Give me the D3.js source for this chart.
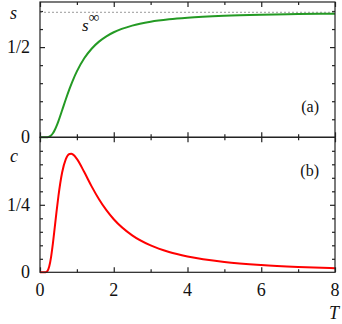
<!DOCTYPE html>
<meta charset="utf-8">
<style>
body { margin: 0; background: #fff; }
svg { display: block; }
svg text {
  font-family: "Liberation Serif", "DejaVu Serif", serif;
  font-size: 18px;
  fill: #111;
}
.ital { font-style: italic; }
.frame { fill: none; stroke: #222; stroke-width: 1.2px; }
.axis path { display: none; }
.axis line { stroke: #222; stroke-width: 1.2px; }
.dash { stroke: #999; stroke-width: 1px; stroke-dasharray: 2,2; }
</style>
<svg width="342" height="324"></svg>
<script src="https://d3js.org/d3.v7.min.js"></script>
<script>

// temperature samples
var temps = [0, 0.1, 0.15, 0.2, 0.25, 0.3, 0.35, 0.4, 0.45, 0.5, 0.6, 0.7, 0.8, 0.85, 0.9, 1.0,
             1.2, 1.4, 1.6, 1.8, 2.0, 2.5, 3, 3.5, 4, 5, 6, 7, 8];
// entropy, panel (a)
var entropy = [0, 0, 0.00002, 0.0005, 0.003, 0.0098, 0.0221, 0.0402, 0.0632, 0.0901, 0.1499, 0.2110, 0.2685, 0.2951, 0.3202, 0.3653,
               0.4378, 0.4910, 0.5303, 0.5598, 0.5822, 0.6191, 0.6405, 0.6539, 0.6629, 0.6736, 0.6795, 0.6830, 0.6854];
// heat capacity, panel (b)
var heatCap = [0, 0, 0.0003, 0.0045, 0.0214, 0.0564, 0.1069, 0.1662, 0.2265, 0.2826, 0.3695, 0.4193, 0.4381, 0.4389, 0.4356, 0.4200,
               0.3712, 0.3183, 0.2705, 0.2300, 0.1966, 0.1369, 0.0996, 0.0753, 0.0588, 0.0384, 0.0270, 0.0200, 0.0154];
var sInf = 0.693; // ln 2

var xMajor = [0, 2, 4, 6, 8],
    xMinor = [1, 3, 5, 7];
var sMajor = [0.5], sMinor = [0.1, 0.2, 0.3, 0.4, 0.6, 0.7];
var cMajor = [0.25], cMinor = [0.05, 0.1, 0.15, 0.2, 0.3, 0.35, 0.4, 0.45];
var sLabels = [[0, "0"], [0.5, "1/2"]];
var cLabels = [[0, "0"], [0.25, "1/4"]];

var svg = d3.select("svg");
var left = 40, right = 335, yTop = 2, yMid = 137.3, yBot = 272.3;

var x = d3.scaleLinear().domain([0, 8]).range([left, right]);
var yS = d3.scaleLinear().domain([0, 0.75]).range([yMid, yTop]);
var yC = d3.scaleLinear().domain([0, 0.5]).range([yBot, yMid]);

function ticks(axisFn, scale, vals, size, tx, ty) {
  svg.append("g").attr("class", "axis")
      .attr("transform", "translate(" + tx + "," + ty + ")")
      .call(axisFn(scale).tickValues(vals).tickSize(-size).tickFormat(""));
}

// x ticks: top of (a), both sides of the shared line, bottom of (b)
[[d3.axisTop, yTop], [d3.axisBottom, yMid], [d3.axisTop, yMid], [d3.axisBottom, yBot]].forEach(function(a) {
  ticks(a[0], x, xMajor, 5, 0, a[1]);
  ticks(a[0], x, xMinor, 3, 0, a[1]);
});

// y ticks, left and right, inward
[[yS, sMajor, sMinor], [yC, cMajor, cMinor]].forEach(function(p) {
  ticks(d3.axisLeft, p[0], p[1], 5, left, 0);
  ticks(d3.axisLeft, p[0], p[2], 3, left, 0);
  ticks(d3.axisRight, p[0], p[1], 5, right, 0);
  ticks(d3.axisRight, p[0], p[2], 3, right, 0);
});

// dashed asymptote
svg.append("line").attr("class", "dash")
    .attr("x1", x(0)).attr("x2", x(8))
    .attr("y1", yS(sInf)).attr("y2", yS(sInf));

var lineS = d3.line().curve(d3.curveMonotoneX)
    .x(function(d, i) { return x(temps[i]); })
    .y(function(d) { return yS(d); });
var lineC = d3.line().curve(d3.curveMonotoneX)
    .x(function(d, i) { return x(temps[i]); })
    .y(function(d) { return yC(d); });

svg.append("path").datum(entropy)
    .attr("d", lineS)
    .attr("fill", "none").attr("stroke", "#249a24").attr("stroke-width", 2);
svg.append("path").datum(heatCap)
    .attr("d", lineC)
    .attr("fill", "none").attr("stroke", "#ff0000").attr("stroke-width", 2);

// frames
svg.append("rect").attr("class", "frame")
    .attr("x", left).attr("y", yTop).attr("width", right - left).attr("height", yMid - yTop);
svg.append("rect").attr("class", "frame")
    .attr("x", left).attr("y", yMid).attr("width", right - left).attr("height", yBot - yMid);

// y labels
sLabels.forEach(function(d) {
  svg.append("text").attr("x", 30).attr("y", yS(d[0])).attr("dy", "0.34em")
      .attr("text-anchor", "end").text(d[1]);
});
cLabels.forEach(function(d) {
  svg.append("text").attr("x", 30).attr("y", yC(d[0])).attr("dy", "0.34em")
      .attr("text-anchor", "end").text(d[1]);
});
svg.append("text").attr("class", "ital").attr("x", 10).attr("y", 19).text("s");
svg.append("text").attr("class", "ital").attr("x", 10).attr("y", 162).text("c");

// x labels
xMajor.forEach(function(v) {
  svg.append("text").attr("x", x(v)).attr("y", 296).attr("text-anchor", "middle").text(v);
});
svg.append("text").attr("class", "ital").attr("x", 334).attr("y", 319)
    .attr("text-anchor", "middle").text("T");

// panel tags
svg.append("text").attr("x", 319).attr("y", 112).attr("text-anchor", "end").style("font-size", "16px").text("(a)");
svg.append("text").attr("x", 319).attr("y", 176).attr("text-anchor", "end").style("font-size", "16px").text("(b)");

// s^inf annotation
var ann = svg.append("text").attr("x", 82).attr("y", 31);
ann.append("tspan").attr("class", "ital").style("font-size", "17px").text("s");
ann.append("tspan").attr("dy", -9).style("font-size", "15px").text("\u221e");

</script>
